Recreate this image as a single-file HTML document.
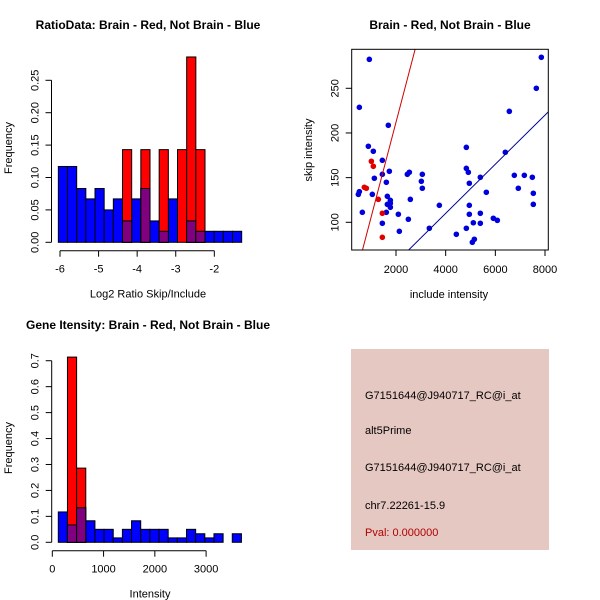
<!DOCTYPE html>
<html><head><meta charset="utf-8"><style>
body{margin:0;background:#fff}
svg{display:block;font-family:"Liberation Sans",sans-serif}
</style></head><body>
<svg id="s" width="600" height="600" viewBox="0 0 600 600">
<rect width="600" height="600" fill="#fff"/>
<g id="p1"></g>
<g id="p2"></g>
<g id="p3"></g>
<g>
<rect x="351" y="349" width="198" height="201" fill="#e6c8c2"/>
<text x="365" y="399" font-size="11">G7151644@J940717_RC@i_at</text>
<text x="365" y="434" font-size="11">alt5Prime</text>
<text x="365" y="471" font-size="11">G7151644@J940717_RC@i_at</text>
<text x="365" y="509" font-size="11">chr7.22261-15.9</text>
<text x="365" y="536" font-size="11" fill="#b00000">Pval: 0.000000</text>
</g>
</svg>
<script>
// ---- data: ratio histogram ----
const ratioBinStart = -6.043;
const ratioBinWidth = 0.2376;
const ratioBlue = [0.117,0.117,0.083,0.067,0.083,0.05,0.067,0.033,0.067,0.083,0.033,0.017,0.067,0,0.033,0.017,0.017,0.017,0.017,0.017];
const ratioRed = [0,0,0,0,0,0,0,0.143,0,0.143,0,0.143,0,0.143,0.286,0.143,0,0,0,0];
const ratioXTicks = [-6,-5,-4,-3,-2];
const ratioYTicks = ["0.00","0.05","0.10","0.15","0.20","0.25"];
// ---- data: gene intensity histogram ----
const intBinStart = 117;
const intBinWidth = 178.6;
const intBlue = [0.117,0.067,0.133,0.083,0.05,0.05,0.017,0.05,0.083,0.05,0.05,0.05,0.017,0.017,0.05,0.033,0.017,0.033,0,0.033];
const intRed = [0,0.714,0.286,0,0,0,0,0,0,0,0,0,0,0,0,0,0,0,0,0];
const intXTicks = [0,1000,2000,3000];
const intYTicks = ["0.0","0.1","0.2","0.3","0.4","0.5","0.6","0.7"];
// ---- data: scatter ----
const blueX = [926,524,524,484,645,886,1087,1128,1047,1450,1450,1611,1651,1691,1732,1651,1611,1772,1772,1772,1450,2094,2134,2497,2456,2537,2577,3020,3060,3060,3342,3745,4429,4832,4832,4912,4952,4952,4952,4832,5113,5073,5154,5395,5395,5395,5637,5919,6080,6402,6563,6764,6925,7167,7489,7529,7529,7650,7851];
const blueY = [282.4,228.7,134.3,131.3,111.2,185.1,179.5,149.3,131.3,169.4,153.7,144.8,129.1,208.6,157.1,120.1,111.2,124.6,121.3,116.8,98.9,109.0,89.9,103.4,153.7,156.0,125.7,145.9,153.7,138.1,93.3,119.0,86.6,183.9,160.4,156.0,143.7,119.0,109.0,93.3,99.5,77.6,81.0,150.4,110.1,98.9,133.6,104.5,102.2,178.4,224.2,152.6,138.1,152.6,150.4,132.5,120.1,250.0,284.7];
const redX = [1007,1087,725,806,1289,1450,1450];
const redY = [168.3,162.7,139.2,138.1,125.7,110.1,83.2];
const redSlope = 0.106, blueSlope = 0.0275;
const scXTicks = [2000,4000,6000,8000];
const scYTicks = [100,150,200,250];

const NS="http://www.w3.org/2000/svg";
function mk(parent,tag,attrs,txt){const e=document.createElementNS(NS,tag);for(const k in attrs)e.setAttribute(k,attrs[k]);if(txt!==undefined)e.textContent=txt;parent.appendChild(e);return e;}

function hist(g,o){
  const sx=v=>o.x0+(v-o.xv0)*o.xs, sy=v=>o.y0-v*o.ys;
  const t=mk(g,'text',{x:o.tx,y:o.ty,'font-size':12,'font-weight':'bold','text-anchor':'middle'},o.title);
  
  
  for(let i=0;i<o.blue.length;i++){
    const a=sx(o.bs+i*o.bw), b=sx(o.bs+(i+1)*o.bw);
    const bv=o.blue[i];
    if(bv>0){const r=mk(g,'rect',{x:a,y:sy(bv),width:b-a,height:sy(0)-sy(bv),fill:'#0000ff',stroke:'#000','stroke-width':1});
      
      }
  }
  for(let i=0;i<o.red.length;i++){
    const a=sx(o.bs+i*o.bw), b=sx(o.bs+(i+1)*o.bw);
    const bv=o.blue[i], rv=o.red[i];
    if(rv>0){const r=mk(g,'rect',{x:a,y:sy(rv),width:b-a,height:sy(0)-sy(rv),fill:'#ff0000',stroke:'#000','stroke-width':1});
      
      
      if(bv>0){const m=Math.min(bv,rv);const p=mk(g,'rect',{x:a,y:sy(m),width:b-a,height:sy(0)-sy(m),fill:'#800080',stroke:'#000','stroke-width':1});
        
        }}
  }
  const ax=o.axisY;
  mk(g,'line',{x1:sx(o.xt[0]),x2:sx(o.xt[o.xt.length-1]),y1:ax,y2:ax,stroke:'#000'});
  o.xt.forEach(v=>{mk(g,'line',{x1:sx(v),x2:sx(v),y1:ax,y2:ax+6,stroke:'#000'});
    const l=mk(g,'text',{x:sx(v),y:ax+22,'font-size':11,'text-anchor':'middle'},String(v));
    
    });
  const yx=o.axisX;
  const yt=o.yt.map(Number);
  mk(g,'line',{x1:yx,x2:yx,y1:sy(yt[0]),y2:sy(yt[yt.length-1]),stroke:'#000'});
  o.yt.forEach(s=>{const v=Number(s);const y=sy(v);mk(g,'line',{x1:yx-6,x2:yx,y1:y,y2:y,stroke:'#000'});
    const l=mk(g,'text',{x:yx-13,y:y,'font-size':11,'text-anchor':'middle',transform:`rotate(-90 ${yx-13} ${y})`},s);
    
    });
  const xl=mk(g,'text',{x:o.xlx,y:ax+47,'font-size':11,'text-anchor':'middle'},o.xlab);
  
  
  const yy=o.yly;
  const yl=mk(g,'text',{x:12,y:yy,'font-size':11,'text-anchor':'middle',transform:`rotate(-90 12 ${yy})`},'Frequency');
  
  
}
hist(document.getElementById('p1'),{x0:60,xv0:-6,xs:38.58,y0:242.3,ys:648,bs:ratioBinStart,bw:ratioBinWidth,blue:ratioBlue,red:ratioRed,xt:ratioXTicks,yt:ratioYTicks,axisY:250.7,axisX:51.5,title:'RatioData: Brain - Red, Not Brain - Blue',tx:148,ty:29,xlab:'Log2 Ratio Skip/Include',xlx:148,yly:148});
hist(document.getElementById('p3'),{x0:52.3,xv0:0,xs:0.05127,y0:542.3,ys:259.4,bs:intBinStart,bw:intBinWidth,blue:intBlue,red:intRed,xt:intXTicks,yt:intYTicks,axisY:550.7,axisX:51.7,title:'Gene Itensity: Brain - Red, Not Brain - Blue',tx:148,ty:329,xlab:'Intensity',xlx:150,yly:448});

(function(){
  const g=document.getElementById('p2');
  const L=351.7,R=548.3,T=49.3,B=250;
  const sx=v=>396+(v-2000)*49.67/2000, sy=v=>222.3-(v-100)*44.67/50;
  const xmin=216,xmax=8133;
  const t=mk(g,'text',{x:450,y:29,'font-size':12,'font-weight':'bold','text-anchor':'middle'},'Brain - Red, Not Brain - Blue');
  
  
  mk(g,'clipPath',{id:'cp'}).appendChild((()=>{const r=document.createElementNS(NS,'rect');r.setAttribute('x',L);r.setAttribute('y',T);r.setAttribute('width',R-L);r.setAttribute('height',B-T);return r;})());
  const cg=mk(g,'g',{'clip-path':'url(#cp)'});
  blueX.forEach((x,i)=>{const c=mk(cg,'circle',{cx:sx(x),cy:sy(blueY[i]),r:2.8,fill:'#0000dd'});
    
    });
  redX.forEach((x,i)=>{const c=mk(cg,'circle',{cx:sx(x),cy:sy(redY[i]),r:2.8,fill:'#e00000'});
    
    });
  const rl=mk(cg,'line',{x1:sx(xmin),y1:sy(redSlope*xmin),x2:sx(xmax),y2:sy(redSlope*xmax),stroke:'#d00000','stroke-width':1});
  
  
  const bl=mk(cg,'line',{x1:sx(xmin),y1:sy(blueSlope*xmin),x2:sx(xmax),y2:sy(blueSlope*xmax),stroke:'#000099','stroke-width':1});
  
  
  mk(g,'rect',{x:L,y:T,width:R-L,height:B-T,fill:'none',stroke:'#000'});
  scXTicks.forEach(v=>{mk(g,'line',{x1:sx(v),x2:sx(v),y1:B,y2:B+6,stroke:'#000'});
    const l=mk(g,'text',{x:sx(v),y:B+23,'font-size':11,'text-anchor':'middle'},String(v));
    
    });
  scYTicks.forEach(v=>{mk(g,'line',{x1:L-6,x2:L,y1:sy(v),y2:sy(v),stroke:'#000'});
    const l=mk(g,'text',{x:L-13,y:sy(v),'font-size':11,'text-anchor':'middle',transform:`rotate(-90 ${L-13} ${sy(v)})`},String(v));
    
    });
  const xl=mk(g,'text',{x:449,y:298,'font-size':11,'text-anchor':'middle'},'include intensity');
  
  
  const yl=mk(g,'text',{x:312,y:150,'font-size':11,'text-anchor':'middle',transform:'rotate(-90 312 150)'},'skip intensity');
  
  
})();
</script>
</body></html>
